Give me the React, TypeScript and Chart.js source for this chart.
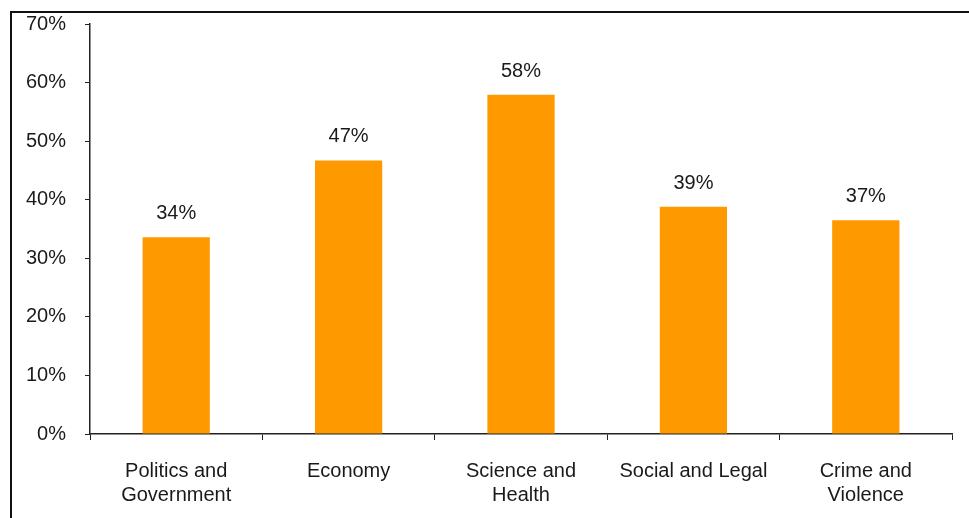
import React, { useEffect, useRef } from "react";
import { Chart, registerables } from "chart.js";

Chart.register(...registerables);

const categories: string[][] = [
  ["Politics and", "Government"],
  ["Economy"],
  ["Science and", "Health"],
  ["Social and Legal"],
  ["Crime and", "Violence"],
];
const values: number[] = [33.6, 46.7, 57.9, 38.8, 36.5];
const valueLabels: string[] = ["34%", "47%", "58%", "39%", "37%"];
const yTicks: number[] = [0, 10, 20, 30, 40, 50, 60, 70];

const FONT = "'Liberation Sans', Arial, sans-serif";
const TEXT = "#1a1a1a";

const framePlugin = {
  id: "frame",
  beforeDraw(chart: any) {
    const ctx = chart.ctx;
    ctx.save();
    ctx.fillStyle = "#fff";
    ctx.fillRect(0, 0, chart.width, chart.height);
    ctx.strokeStyle = "#111";
    ctx.lineWidth = 2;
    ctx.beginPath();
    ctx.moveTo(11, chart.height);
    ctx.lineTo(11, 12);
    ctx.lineTo(chart.width, 12);
    ctx.stroke();
    ctx.restore();
  },
};

const labelPlugin = {
  id: "valueLabels",
  afterDatasetsDraw(chart: any) {
    const ctx = chart.ctx;
    const meta = chart.getDatasetMeta(0);
    ctx.save();
    ctx.font = `20px ${FONT}`;
    ctx.fillStyle = TEXT;
    ctx.textAlign = "center";
    ctx.textBaseline = "alphabetic";
    meta.data.forEach((bar: any, i: number) => {
      ctx.fillText(valueLabels[i], bar.x, bar.y - 18);
    });
    ctx.restore();
  },
};

export default function App() {
  const ref = useRef<HTMLCanvasElement>(null);
  useEffect(() => {
    if (!ref.current) return;
    const chart = new Chart(ref.current, {
      type: "bar",
      data: {
        labels: categories,
        datasets: [
          {
            data: values,
            backgroundColor: "#FF9900",
            borderWidth: 0,
            categoryPercentage: 1,
            barPercentage: 0.39,
          },
        ],
      },
      options: {
        responsive: false,
        animation: false,
        layout: { padding: { top: 24, right: 17, left: 0, bottom: 0 } },
        plugins: {
          legend: { display: false },
          tooltip: { enabled: false },
        },
        scales: {
          x: {
            grid: {
              drawOnChartArea: false,
              drawTicks: true,
              tickLength: 6,
              color: "#222",
              offset: true,
            },
            border: { display: true, color: "#222", width: 1.5 },
            ticks: {
              color: TEXT,
              font: { family: FONT, size: 20, lineHeight: 1.2 },
              padding: 19,
              maxRotation: 0,
              autoSkip: false,
            },
            afterFit(scale: any) {
              scale.height = 84;
              scale.paddingLeft = 0;
              scale.paddingRight = 0;
            },
          },
          y: {
            min: 0,
            max: 70,
            afterBuildTicks(scale: any) {
              scale.ticks = yTicks.map((v) => ({ value: v }));
            },
            grid: {
              drawOnChartArea: false,
              drawTicks: true,
              tickLength: 5,
              color: "#222",
            },
            border: { display: true, color: "#222", width: 1.5 },
            ticks: {
              color: TEXT,
              font: { family: FONT, size: 20 },
              padding: 19,
              callback: (v: any) => `${v}%`,
            },
            afterFit(scale: any) {
              scale.width = 90;
              scale.paddingTop = 0;
              scale.paddingBottom = 0;
            },
          },
        },
      },
      plugins: [framePlugin, labelPlugin],
    });
    return () => chart.destroy();
  }, []);
  return (
    <div style={{ position: "absolute", left: 0, top: 0, width: 969, height: 518 }}>
      <canvas ref={ref} width={969} height={518} />
    </div>
  );
}
